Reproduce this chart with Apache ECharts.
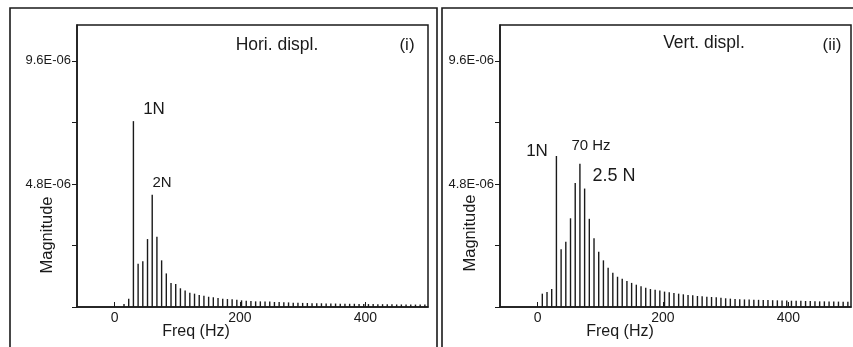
<!DOCTYPE html>
<html>
<head>
<meta charset="utf-8">
<script src="https://cdn.jsdelivr.net/npm/echarts@6/dist/echarts.min.js"></script>
<style>
  html, body { margin: 0; padding: 0; background: #fff; }
  #chart { width: 853px; height: 347px; }
</style>
</head>
<body>
<div id="chart"></div>
<script>
// frequency bins (Hz)
const freq = [0, 7.5, 15, 22.5, 30, 37.5, 45, 52.5, 60, 67.5,
  75, 82.5, 90, 97.5, 105, 112.5, 120, 127.5, 135, 142.5,
  150, 157.5, 165, 172.5, 180, 187.5, 195, 202.5, 210, 217.5,
  225, 232.5, 240, 247.5, 255, 262.5, 270, 277.5, 285, 292.5,
  300, 307.5, 315, 322.5, 330, 337.5, 345, 352.5, 360, 367.5,
  375, 382.5, 390, 397.5, 405, 412.5, 420, 427.5, 435, 442.5,
  450, 457.5, 465, 472.5, 480, 487.5, 495]

// magnitudes, in units of 1E-06
const horiMag = [0, 0, 0.12, 0.32, 7.25, 1.69, 1.78, 2.65, 4.38, 2.74,
  1.82, 1.31, 0.94, 0.90, 0.73, 0.64, 0.56, 0.52, 0.47, 0.44,
  0.40, 0.38, 0.35, 0.32, 0.31, 0.30, 0.285, 0.26, 0.245, 0.235,
  0.22, 0.22, 0.21, 0.21, 0.195, 0.195, 0.185, 0.18, 0.17, 0.17,
  0.16, 0.155, 0.15, 0.15, 0.145, 0.14, 0.14, 0.135, 0.13, 0.13,
  0.125, 0.125, 0.12, 0.12, 0.115, 0.115, 0.11, 0.11, 0.105, 0.105,
  0.1, 0.1, 0.1, 0.1, 0.095, 0.095, 0.095]

const vertMag = [0, 0.52, 0.585, 0.70, 5.89, 2.25, 2.55, 3.46, 4.84, 5.59,
  4.62, 3.44, 2.68, 2.16, 1.82, 1.53, 1.34, 1.18, 1.10, 1.01,
  0.94, 0.87, 0.81, 0.75, 0.70, 0.675, 0.64, 0.60, 0.575, 0.545,
  0.52, 0.495, 0.47, 0.455, 0.43, 0.415, 0.40, 0.39, 0.38, 0.365,
  0.34, 0.325, 0.31, 0.30, 0.295, 0.29, 0.285, 0.28, 0.275, 0.27,
  0.265, 0.26, 0.255, 0.25, 0.245, 0.24, 0.24, 0.235, 0.23, 0.225,
  0.22, 0.22, 0.215, 0.21, 0.21, 0.205, 0.2]

const xTicks = [0, 200, 400]
const yTicks = [0, 2.4, 4.8, 7.2, 9.6]
const yLabels = [4.8, 9.6]

const FONT = '"Liberation Sans", Arial, sans-serif'
const INK = '#1a1a1a'

const chart = echarts.init(document.getElementById('chart'))

function xAxisCfg(idx) {
  return {
    type: 'value',
    gridIndex: idx,
    min: -60,
    max: 500,
    splitLine: { show: false },
    axisLine: { show: true, onZero: false, lineStyle: { color: INK, width: 1.5 } },
    axisTick: { show: true, inside: true, length: 5, customValues: xTicks, lineStyle: { color: INK } },
    axisLabel: { customValues: xTicks, color: INK, fontSize: 14, fontFamily: FONT, margin: 4 },
  }
}

function yAxisCfg(idx) {
  return {
    type: 'value',
    gridIndex: idx,
    min: 0,
    max: 11,
    splitLine: { show: false },
    axisLine: { show: true, onZero: false, lineStyle: { color: INK, width: 1.5 } },
    axisTick: { show: true, length: 5, customValues: yTicks, lineStyle: { color: INK } },
    axisLabel: {
      customValues: yLabels,
      color: INK,
      fontSize: 13,
      fontFamily: FONT,
      margin: 6,
      formatter: function (v) {
        return v.toFixed(1) + 'E-06'
      },
    },
  }
}

function barSeries(idx, values) {
  return {
    type: 'bar',
    xAxisIndex: idx,
    yAxisIndex: idx,
    barWidth: 1.4,
    silent: true,
    itemStyle: { color: INK },
    data: freq.map((f, i) => [f, values[i]]),
  }
}

function txt(text, x, y, size, rotation) {
  return {
    type: 'text',
    x: x,
    y: y,
    rotation: rotation || 0,
    style: {
      text: text,
      fill: INK,
      fontSize: size,
      fontFamily: FONT,
      textAlign: 'center',
      textVerticalAlign: 'middle',
    },
  }
}

const option = {
  animation: false,
  backgroundColor: '#fff',
  grid: [
    { left: 77, top: 25, width: 351, height: 282, show: true, borderColor: INK, borderWidth: 1.5 },
    { left: 500, top: 25, width: 351, height: 282, show: true, borderColor: INK, borderWidth: 1.5 },
  ],
  xAxis: [xAxisCfg(0), xAxisCfg(1)],
  yAxis: [yAxisCfg(0), yAxisCfg(1)],
  series: [barSeries(0, horiMag), barSeries(1, vertMag)],
  graphic: [
    // panel frames
    { type: 'rect', shape: { x: 10, y: 8, width: 427, height: 360 }, style: { fill: 'none', stroke: INK, lineWidth: 1.6 } },
    { type: 'rect', shape: { x: 442, y: 8, width: 420, height: 360 }, style: { fill: 'none', stroke: INK, lineWidth: 1.6 } },
    // left panel texts
    txt('Hori. displ.', 277, 45, 17.5),
    txt('(i)', 407, 45, 17),
    txt('1N', 154, 109, 17),
    txt('2N', 162, 183, 15),
    txt('Magnitude', 47, 235, 16.5, Math.PI / 2),
    txt('Freq (Hz)', 196, 332, 16),
    // right panel texts
    txt('Vert. displ.', 704, 43, 17.5),
    txt('(ii)', 832, 45, 17),
    txt('1N', 537, 151, 17),
    txt('70 Hz', 591, 146, 15),
    txt('2.5 N', 614, 176, 18),
    txt('Magnitude', 470, 233, 16.5, Math.PI / 2),
    txt('Freq (Hz)', 620, 332, 16),
  ],
}

chart.setOption(option)
</script>
</body>
</html>
